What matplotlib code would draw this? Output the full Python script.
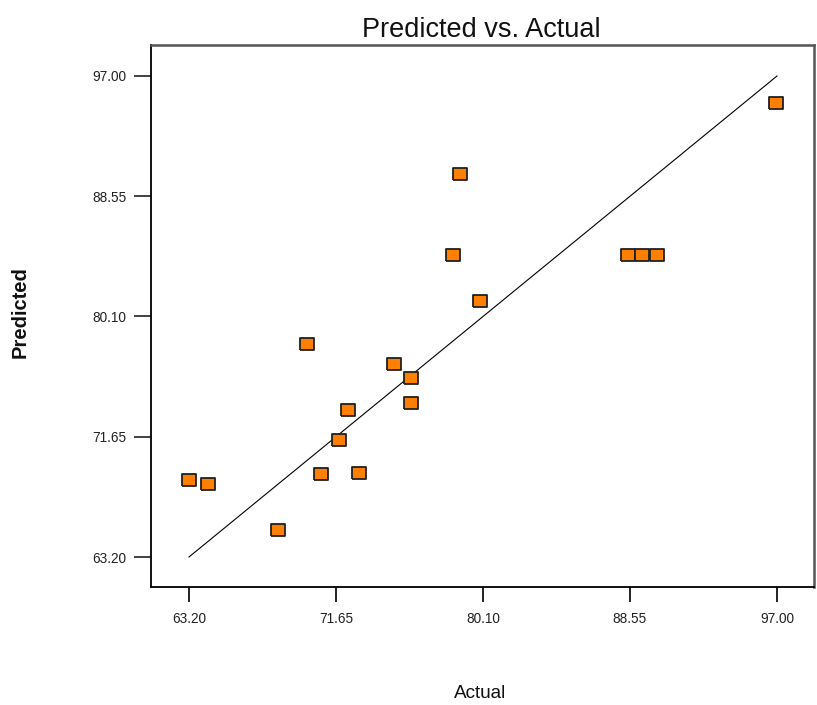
import matplotlib
matplotlib.use("Agg")
import matplotlib.pyplot as plt
from matplotlib import font_manager

# valores actual / predicho de las corridas
actual = [63.2, 64.3, 68.3, 70.0, 70.8, 71.8, 72.35, 73.0, 75.0, 75.95, 75.95,
          78.4, 78.75, 79.95, 88.45, 89.25, 90.1, 96.95]
predicted = [68.6, 68.3, 65.1, 78.2, 69.0, 71.4, 73.5, 69.1, 76.75, 75.75, 74.05,
             84.45, 90.1, 81.2, 84.45, 84.45, 84.45, 95.1]

ticks = [63.20, 71.65, 80.10, 88.55, 97.00]
tick_labels = ["63.20", "71.65", "80.10", "88.55", "97.00"]
diag = [63.20, 97.00]

names = {f.name for f in font_manager.fontManager.ttflist}
narrow = "Liberation Sans Narrow" if "Liberation Sans Narrow" in names else "Liberation Sans"
scale = 1.0 if narrow == "Liberation Sans Narrow" else 0.85

fig = plt.figure(figsize=(8.17, 7.05), dpi=100)
ax = fig.add_axes([151 / 817, 118 / 705, 663 / 817, 542 / 705])

# linea y = x
ax.plot(diag, diag, color="black", lw=0.8, zorder=2)

# marcador rectangular naranja
rect = [(-1, -0.85), (1, -0.85), (1, 0.85), (-1, 0.85), (-1, -0.85)]
ax.plot(actual, predicted, ls="none", marker=rect, markersize=10.5,
        markerfacecolor="#ff8000", markeredgecolor="#202020", markeredgewidth=1.3,
        zorder=3)

ax.set_xlim(61.016, 99.127)
ax.set_ylim(61.092, 99.178)
ax.set_xticks(ticks)
ax.set_xticklabels(tick_labels, family=narrow, fontsize=11.5 * scale)
ax.set_yticks(ticks)
ax.set_yticklabels(tick_labels, family=narrow, fontsize=11.5 * scale)
ax.tick_params(axis="y", direction="out", length=12.5, width=1.3, pad=5, colors="#333333",
               labelcolor="#222222")
ax.tick_params(axis="x", direction="out", length=11, width=1.3, pad=7, colors="#111111",
               labelcolor="#222222")

for side in ["left", "bottom"]:
    ax.spines[side].set_linewidth(1.3)
    ax.spines[side].set_color("black")
for side in ["top", "right"]:
    ax.spines[side].set_linewidth(1.8)
    ax.spines[side].set_color("#555555")

fig.text(481 / 817, 1 - 37 / 705, "Predicted vs. Actual", family=narrow,
         fontsize=23 * scale, ha="center", va="baseline", color="#111111")
fig.text(480 / 817, 1 - 698 / 705, "Actual", family=narrow, fontsize=16 * scale,
         ha="center", va="baseline", color="#111111")
fig.text(20 / 817, 1 - 312 / 705, "Predicted", family="Liberation Sans", fontsize=14.5,
         fontweight="bold", rotation=90, ha="center", va="center", color="#111111")

fig.savefig("out.png", dpi=100)
